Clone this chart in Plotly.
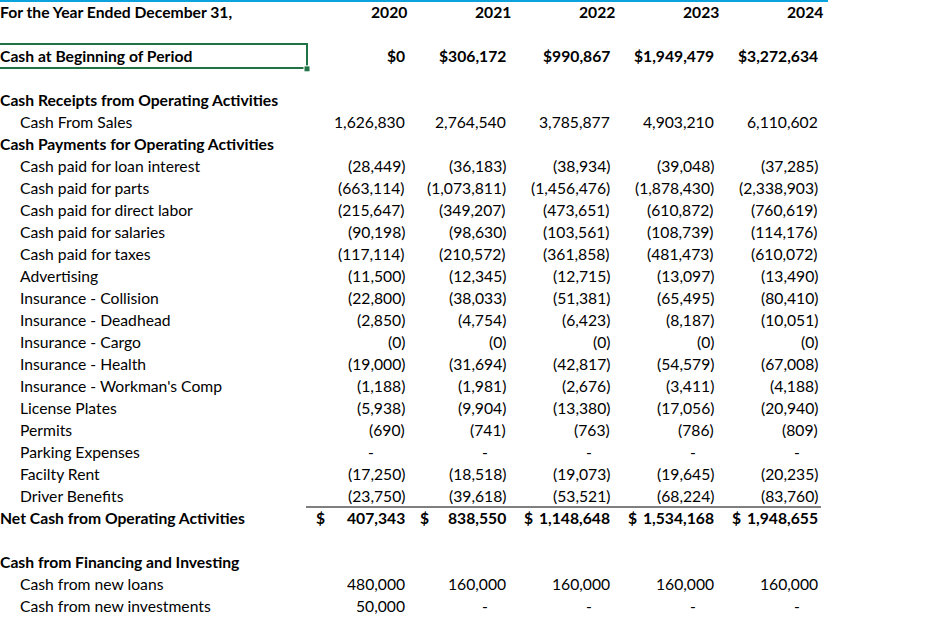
import math
import plotly.graph_objects as go

# ---------------- data ----------------
years = ["2020", "2021", "2022", "2023", "2024"]
header_label = "For the Year Ended December 31,"

cash_begin = [0, 306172, 990867, 1949479, 3272634]
cash_from_sales = [1626830, 2764540, 3785877, 4903210, 6110602]

payment_labels = [
    "Cash paid for loan interest", "Cash paid for parts", "Cash paid for direct labor",
    "Cash paid for salaries", "Cash paid for taxes", "Advertising",
    "Insurance - Collision", "Insurance - Deadhead", "Insurance - Cargo",
    "Insurance - Health", "Insurance - Workman's Comp", "License Plates",
    "Permits", "Parking Expenses", "Facilty Rent", "Driver Benefits",
]
loan_interest = [-28449, -36183, -38934, -39048, -37285]
parts = [-663114, -1073811, -1456476, -1878430, -2338903]
direct_labor = [-215647, -349207, -473651, -610872, -760619]
salaries = [-90198, -98630, -103561, -108739, -114176]
taxes = [-117114, -210572, -361858, -481473, -610072]
advertising = [-11500, -12345, -12715, -13097, -13490]
ins_collision = [-22800, -38033, -51381, -65495, -80410]
ins_deadhead = [-2850, -4754, -6423, -8187, -10051]
ins_cargo = [-0.0, -0.0, -0.0, -0.0, -0.0]
ins_health = [-19000, -31694, -42817, -54579, -67008]
ins_workmans = [-1188, -1981, -2676, -3411, -4188]
license_plates = [-5938, -9904, -13380, -17056, -20940]
permits = [-690, -741, -763, -786, -809]
parking = [0, 0, 0, 0, 0]
facility_rent = [-17250, -18518, -19073, -19645, -20235]
driver_benefits = [-23750, -39618, -53521, -68224, -83760]
payments = [loan_interest, parts, direct_labor, salaries, taxes, advertising,
            ins_collision, ins_deadhead, ins_cargo, ins_health, ins_workmans,
            license_plates, permits, parking, facility_rent, driver_benefits]

net_cash_operating = [407343, 838550, 1148648, 1534168, 1948655]

new_loans = [480000, 160000, 160000, 160000, 160000]
new_investments = [50000, 0, 0, 0, 0]

# ---------------- layout constants ----------------
W, H = 942, 620
ROW0, ROW_H = 12.0, 22.0
FONT = "Lato"
FS = 15.7
HDR_RIGHT = [408, 512, 616, 720, 824]
VAL_RIGHT = [406, 507, 611, 715, 819]
DOLLAR_X = [315, 419, 523, 627, 731]
DASH_X = [371, 485, 589, 693, 797]
LEFT = 0
INDENT = 19


def fmt_acct(v):
    if v == 0 and math.copysign(1, v) > 0:
        return None
    if v < 0 or math.copysign(1, v) < 0:
        return "({:,.0f})".format(abs(v))
    return "{:,.0f}".format(v)


annotations = []


def add_text(x, row, text, anchor, bold=False, shift=0):
    annotations.append(dict(
        x=x, y=row, xref="x", yref="y", text=("<b>%s</b>" % text) if bold else text,
        showarrow=False, xanchor=anchor, yanchor="middle", xshift=shift,
        font=dict(family=FONT, size=FS, color="#000000"), borderpad=0,
    ))


def add_values(row, values, bold=False):
    for j, v in enumerate(values):
        s = fmt_acct(v)
        if s is None:
            add_text(DASH_X[j], row, "-", "center", bold)
        else:
            add_text(VAL_RIGHT[j], row, s, "right", bold)


# header
add_text(LEFT, 0, header_label, "left", True, -1)
for j, y in enumerate(years):
    add_text(HDR_RIGHT[j], 0, y, "right", True)

# cash at beginning
add_text(LEFT, 2, "Cash at Beginning of Period", "left", True, -1)
for j, v in enumerate(cash_begin):
    add_text(VAL_RIGHT[j], 2, "${:,.0f}".format(v), "right", True)

add_text(LEFT, 4, "Cash Receipts from Operating Activities", "left", True, -1)
add_text(INDENT, 5, "Cash From Sales", "left")
add_values(5, cash_from_sales)
add_text(LEFT, 6, "Cash Payments for Operating Activities", "left", True, -1)
for i, (lab, vals) in enumerate(zip(payment_labels, payments)):
    r = 7 + i
    add_text(INDENT, r, lab, "left")
    add_values(r, vals)

net_row = 7 + len(payments)
add_text(LEFT, net_row, "Net Cash from Operating Activities", "left", True, -1)
for j, v in enumerate(net_cash_operating):
    add_text(DOLLAR_X[j], net_row, "$", "left", True)
    add_text(VAL_RIGHT[j], net_row, "{:,.0f}".format(v), "right", True)

fin_row = net_row + 2
add_text(LEFT, fin_row, "Cash from Financing and Investing", "left", True, -1)
add_text(INDENT, fin_row + 1, "Cash from new loans", "left")
add_values(fin_row + 1, new_loans)
add_text(INDENT, fin_row + 2, "Cash from new investments", "left")
add_values(fin_row + 2, new_investments)

shapes = [
    # top blue rule
    dict(type="line", xref="x", yref="paper", x0=0, x1=828, y0=1 - 1 / H, y1=1 - 1 / H,
         line=dict(color="#0AA3DD", width=2)),
    # selected cell border
    dict(type="rect", xref="x", yref="y", x0=-1, x1=307, y0=2 - 0.54, y1=2 + 0.54,
         line=dict(color="#217346", width=2)),
    dict(type="rect", xref="x", yref="y", x0=304, x1=310, y0=2 + 0.45, y1=2 + 0.72,
         line=dict(color="#ffffff", width=1), fillcolor="#217346"),
    # line above net cash
    dict(type="line", xref="x", yref="y", x0=306, x1=821, y0=net_row - 0.5, y1=net_row - 0.5,
         line=dict(color="#000000", width=1)),
]

fig = go.Figure()
fig.add_trace(go.Scatter(x=[0], y=[0], mode="markers", marker=dict(opacity=0),
                         hoverinfo="skip", showlegend=False))
fig.update_layout(
    width=W, height=H, margin=dict(l=0, r=0, t=0, b=0),
    paper_bgcolor="white", plot_bgcolor="white",
    xaxis=dict(range=[0, W], visible=False, fixedrange=True),
    yaxis=dict(range=[(H - ROW0) / ROW_H, -ROW0 / ROW_H], visible=False, fixedrange=True),
    annotations=annotations, shapes=shapes, showlegend=False,
)
fig.write_html("out.html", post_script="document.body.style.margin='0';",
               config={"displayModeBar": False})
